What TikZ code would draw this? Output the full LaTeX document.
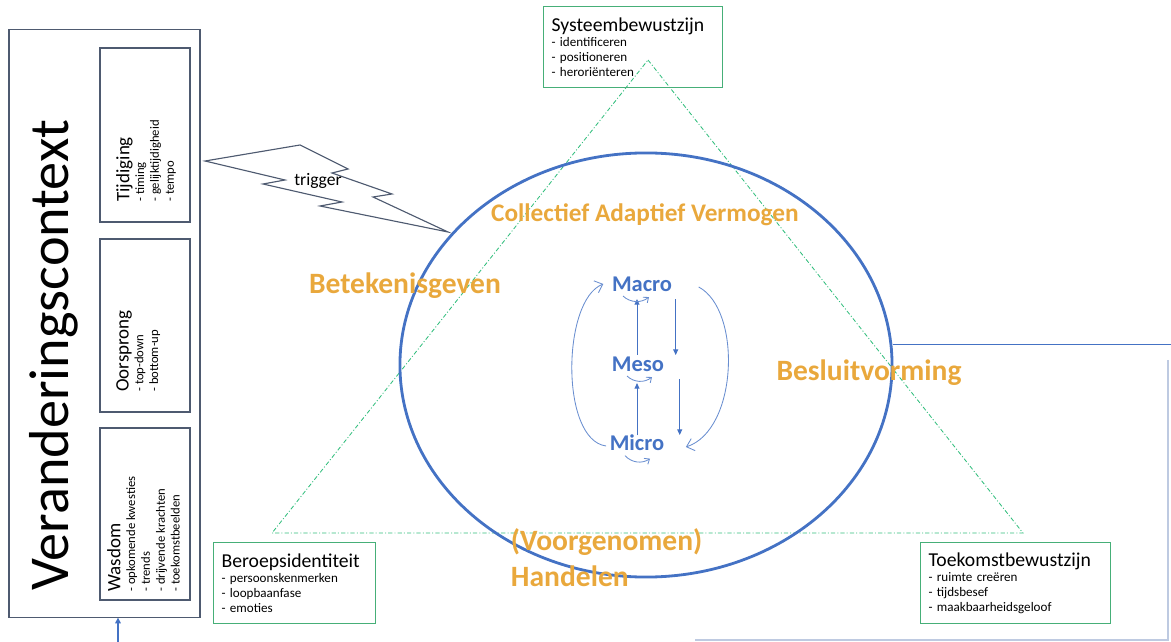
\documentclass[tikz,border=0pt]{standalone}
\usepackage{fontspec}
\setmainfont{Carlito}
\usetikzlibrary{calc,arrows.meta}
\definecolor{ctxgray}{RGB}{78,90,112}
\definecolor{capblue}{RGB}{68,114,196}
\definecolor{capgreen}{RGB}{70,175,120}
\definecolor{tridash}{RGB}{50,190,125}
\definecolor{caporange}{RGB}{233,168,60}
\definecolor{faintblue}{RGB}{190,202,225}
\begin{document}
\begin{tikzpicture}[x=0.025cm,y=-0.025cm,
    ctxbox/.style={draw=ctxgray, line width=0.8pt},
    ctxlist/.style={rotate=90, anchor=north west, inner sep=0pt, align=left, font=\fontsize{9}{10.5}\selectfont},
    sidebox/.style={draw=capgreen, line width=0.8pt, anchor=north west, minimum height=2.025cm, inner xsep=0.2cm, align=left, font=\fontsize{9.3}{10.6}\selectfont},
    capword/.style={text=caporange, font=\bfseries\fontsize{21}{25.5}\selectfont},
    level/.style={text=capblue, font=\bfseries\fontsize{16}{16}\selectfont, inner sep=1pt},
    levelarrow/.style={draw=capblue, line width=0.7pt, -{Triangle[length=4pt,width=3.5pt]}},
    loopline/.style={draw=capblue!80, line width=0.6pt, -{Straight Barb[length=3pt,width=5pt]}},
    bigloop/.style={draw=capblue!80, line width=0.6pt, -{Straight Barb[length=5pt,width=9pt]}}]
  \useasboundingbox (0,0) rectangle (1171,642);
  \draw [faintblue, line width=0.8pt] (1168,360) -- (1168,640) -- (695,640);
  \draw [capblue, line width=0.6pt] (893,344) -- (1171,344);
  \draw [tridash, line width=0.6pt, dash pattern=on 3pt off 1.5pt on 0.7pt off 1.5pt] (648,60) -- (1023,533) -- (272,533) -- cycle;
  \draw [capblue, line width=2pt] (646,365) ellipse [x radius=6.15cm, y radius=5.3cm];
  \node[ctxbox, minimum width=4.775cm, minimum height=14.675cm] (ctx) at (104.5,323.5) {};
  \node[ctxbox, minimum width=2.25cm, minimum height=4.35cm] (tijbox) at (145,135) {};
  \node[ctxbox, minimum width=2.25cm, minimum height=4.325cm] (oorbox) at (145,325.5) {};
  \node[ctxbox, minimum width=2.25cm, minimum height=4.3cm] (wasbox) at (145,514) {};
  \node[rotate=90, anchor=base, inner sep=0pt, font=\fontsize{40}{41}\selectfont] (title) at (68,355) {Veranderingscontext};
  \node[ctxlist] (tijtext) at (116,202) {{\fontsize{13.5}{14}\selectfont Tijdiging}\\- timing\\- gelijktijdigheid\\- tempo};
  \node[ctxlist] (oortext) at (116,392) {{\fontsize{13.5}{14}\selectfont Oorsprong}\\- top-down\\- bottom-up};
  \node[ctxlist] (wastext) at (107,592) {{\fontsize{13.5}{14}\selectfont Wasdom}\\- opkomende kwesties\\- trends\\- drijvende krachten\\- toekomstbeelden};
  \coordinate (feed) at (118,642);
  \draw [capblue, line width=0.8pt, -{Triangle[length=4pt,width=4pt]}] (feed) -- (feed |- ctx.south);
  \draw [ctxgray, line width=0.8pt, fill=white] (205,161) -- (300,145) -- (348,169) -- (332,173) -- (392,194) -- (373,197) -- (448,232) -- (320,206) -- (342,202) -- (263,184) -- (285,180) -- cycle;
  \node[font=\fontsize{12.5}{13}\selectfont] (trigger) at (318,181) {trigger};
  \node[sidebox, text width=4.075cm] (sys) at (543,6) {{\fontsize{14}{16}\selectfont Systeembewustzijn}\\- identificeren\\- positioneren\\- heroriënteren};
  \node[sidebox, text width=3.65cm] (beroep) at (213,542) {{\fontsize{14}{16}\selectfont Beroepsidentiteit}\\- persoonskenmerken\\- loopbaanfase\\- emoties};
  \node[sidebox, text width=4.35cm] (toekomst) at (920,542) {{\fontsize{14}{16}\selectfont Toekomstbewustzijn}\\- ruimte creëren\\- tijdsbesef\\- maakbaarheidsgeloof};
  \node[capword, font=\bfseries\fontsize{18}{20}\selectfont] (cav) at (645,215) {Collectief Adaptief Vermogen};
  \node[capword] (betekenis) at (405,286) {Betekenisgeven};
  \node[capword] (besluit) at (869,373) {Besluitvorming};
  \node[capword, align=left, anchor=west] (handelen) at (506,558) {(Voorgenomen)\\Handelen};
  \node[level] (macro) at (642,284) {Macro};
  \node[level] (meso) at (638,364) {Meso};
  \node[level] (micro) at (637,443) {Micro};
  \draw [levelarrow] ($(meso.north)+(-1,0)$) -- ($(macro.south)+(-5,6)$);
  \draw [levelarrow] ($(micro.north)+(0,2)$) -- ($(meso.south)+(-1,10)$);
  \draw [levelarrow] ($(macro.south east)+(2,6)$) -- ($(macro.south east)+(2,62)$);
  \draw [levelarrow] ($(meso.south east)+(14,6)$) -- ($(meso.south east)+(14,62)$);
  \draw [loopline] ($(macro.south)+(-19,3)$) to[bend right=40] ($(macro.south)+(7,4)$);
  \draw [loopline] ($(meso.south)+(-11,3)$) to[bend right=40] ($(meso.south)+(14,4)$);
  \draw [loopline] ($(micro.south)+(-12,3)$) to[bend right=40] ($(micro.south)+(13,6)$);
  \draw [bigloop] ($(micro.west)+(-2,3)$) .. controls (560,440) and (562,300) .. ($(macro.west)+(-7,0)$);
  \draw [bigloop] ($(macro.east)+(25,3)$) .. controls (742,310) and (738,430) .. ($(micro.east)+(20,4)$);
\end{tikzpicture}
\end{document}
